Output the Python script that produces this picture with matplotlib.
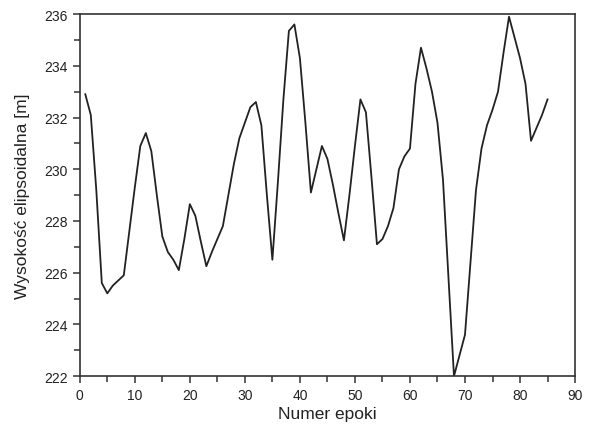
import matplotlib
matplotlib.use("Agg")
import matplotlib.pyplot as plt
from matplotlib.ticker import MultipleLocator

# epoka -> wysokosc elipsoidalna [m]
epoki = list(range(1, 86))
wysokosc = [232.9, 232.1, 229.2, 225.6, 225.2, 225.5, 225.7, 225.9, 227.6, 229.3,
            230.9, 231.4, 230.7, 229.0, 227.4, 226.8, 226.5, 226.1, 227.3, 228.65,
            228.2, 227.2, 226.25, 226.8, 227.3, 227.8, 229.0, 230.2, 231.2, 231.8,
            232.4, 232.6, 231.7, 229.0, 226.5, 229.5, 232.7, 235.35, 235.6, 234.3,
            231.8, 229.1, 230.0, 230.9, 230.4, 229.4, 228.3, 227.25, 229.0, 230.9,
            232.7, 232.2, 229.7, 227.1, 227.3, 227.8, 228.5, 230.0, 230.5, 230.8,
            233.3, 234.7, 233.9, 233.0, 231.8, 229.6, 225.8, 222.0, 222.8, 223.6,
            226.4, 229.2, 230.8, 231.7, 232.3, 233.0, 234.5, 235.9, 235.1, 234.3,
            233.3, 231.1, 231.6, 232.1, 232.7]

plt.rcParams['font.family'] = ['Liberation Sans', 'DejaVu Sans']

fig = plt.figure(figsize=(5.91, 4.31), dpi=100)
ax = fig.add_axes([0.135, 0.125, 0.838, 0.84])

ax.plot(epoki, wysokosc, color="#222222", linewidth=1.3)

ax.set_xlim(0, 90)
ax.set_ylim(222, 236)
ax.xaxis.set_major_locator(MultipleLocator(10))
ax.xaxis.set_minor_locator(MultipleLocator(5))
ax.yaxis.set_major_locator(MultipleLocator(2))
ax.yaxis.set_minor_locator(MultipleLocator(1))
ax.tick_params(which="both", direction="out", top=False, right=False,
               colors="#333333", labelcolor="#222222", width=1.1)
ax.tick_params(which="major", length=5, labelsize=10)
ax.tick_params(which="minor", length=4)
for s in ax.spines.values():
    s.set_linewidth(1.2)
    s.set_color("#333333")

ax.set_xlabel("Numer epoki", fontsize=12.5, color="#222222", labelpad=3)
ax.set_ylabel("Wysokość elipsoidalna [m]", fontsize=12.5, color="#222222", labelpad=10)

fig.savefig("out.png", dpi=100)
